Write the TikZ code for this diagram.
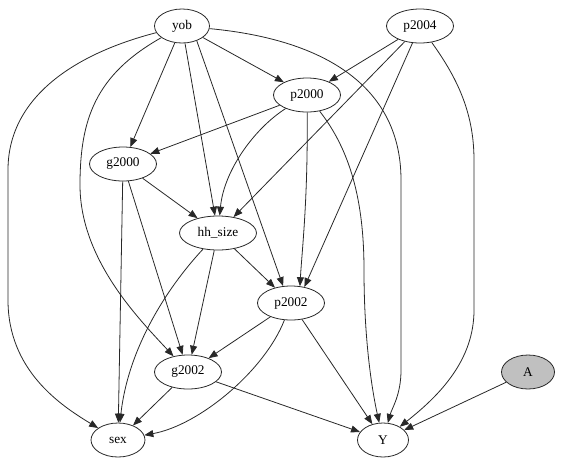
\documentclass[tikz,border=0pt]{standalone}
\usepackage{fontspec}
\setmainfont{Liberation Serif}
\usetikzlibrary{shapes.geometric,arrows.meta}
\definecolor{nodegray}{RGB}{192,192,192}
\definecolor{linecol}{RGB}{40,40,40}
\begin{document}
\begin{tikzpicture}[x=1pt,y=-1pt,
  nd/.style={ellipse,draw=linecol,line width=0.8pt,inner sep=0pt,minimum height=34pt,font=\fontsize{13.3}{16}\selectfont},
  ed/.style={draw=linecol,-{Triangle[length=9pt,width=7pt]},line width=0.8pt},
]
\useasboundingbox (0,0) rectangle (562,467);
% nodes
\node[nd,minimum width=55pt] (yob) at (182,26) {yob};
\node[nd,minimum width=67pt] (p2004) at (420,26) {p2004};
\node[nd,minimum width=67pt] (p2000) at (307,95) {p2000};
\node[nd,minimum width=67pt] (g2000) at (123,164) {g2000};
\node[nd,minimum width=77pt] (hh) at (218,233) {hh\_size};
\node[nd,minimum width=67pt] (p2002) at (291,303) {p2002};
\node[nd,minimum width=67pt] (g2002) at (188,372) {g2002};
\node[nd,minimum width=54pt] (sex) at (118,440) {sex};
\node[nd,minimum width=51pt] (Y) at (383,440) {Y};
\node[nd,minimum width=53pt,fill=nodegray] (A) at (528,372) {A};
% edges from yob
\draw[ed] (yob) .. controls (70,55) and (8,100) .. (8,170) -- (8,300) .. controls (8,370) and (60,405) .. (sex);
\draw[ed] (yob) .. controls (95,75) and (80,120) .. (80,185) .. controls (80,260) and (140,320) .. (g2002);
\draw[ed] (yob) -- (g2000);
\draw[ed] (yob) -- (hh);
\draw[ed] (yob) -- (p2000);
\draw[ed] (yob.-45) -- (p2002.115);
\draw[ed] (yob) .. controls (330,40) and (401,90) .. (401,180) -- (401,370) .. controls (401,395) and (392,408) .. (Y);
% edges from p2004
\draw[ed] (p2004) -- (p2000);
\draw[ed] (p2004) -- (hh);
\draw[ed] (p2004) -- (p2002.50);
\draw[ed] (p2004) .. controls (455,75) and (474,110) .. (474,160) -- (474,310) .. controls (474,360) and (440,395) .. (Y);
% edges from p2000
\draw[ed] (p2000) -- (g2000);
\draw[ed] (p2000) .. controls (255,128) and (224,170) .. (hh);
\draw[ed] (p2000) .. controls (308,200) and (302,250) .. (p2002.62);
\draw[ed] (p2000) .. controls (350,150) and (364,200) .. (364,270) .. controls (364,340) and (372,390) .. (Y);
% edges from g2000
\draw[ed] (g2000) -- (hh);
\draw[ed] (g2000) -- (sex);
\draw[ed] (g2000) -- (g2002);
% edges from hh_size
\draw[ed] (hh) -- (p2002);
\draw[ed] (hh) -- (g2002);
\draw[ed] (hh) .. controls (165,290) and (128,350) .. (sex);
% edges from p2002
\draw[ed] (p2002) -- (g2002);
\draw[ed] (p2002) -- (Y);
\draw[ed] (p2002) .. controls (265,370) and (200,425) .. (sex);
% edges from g2002
\draw[ed] (g2002) -- (sex);
\draw[ed] (g2002) -- (Y);
% A
\draw[ed] (A) -- (Y);
\end{tikzpicture}
\end{document}
